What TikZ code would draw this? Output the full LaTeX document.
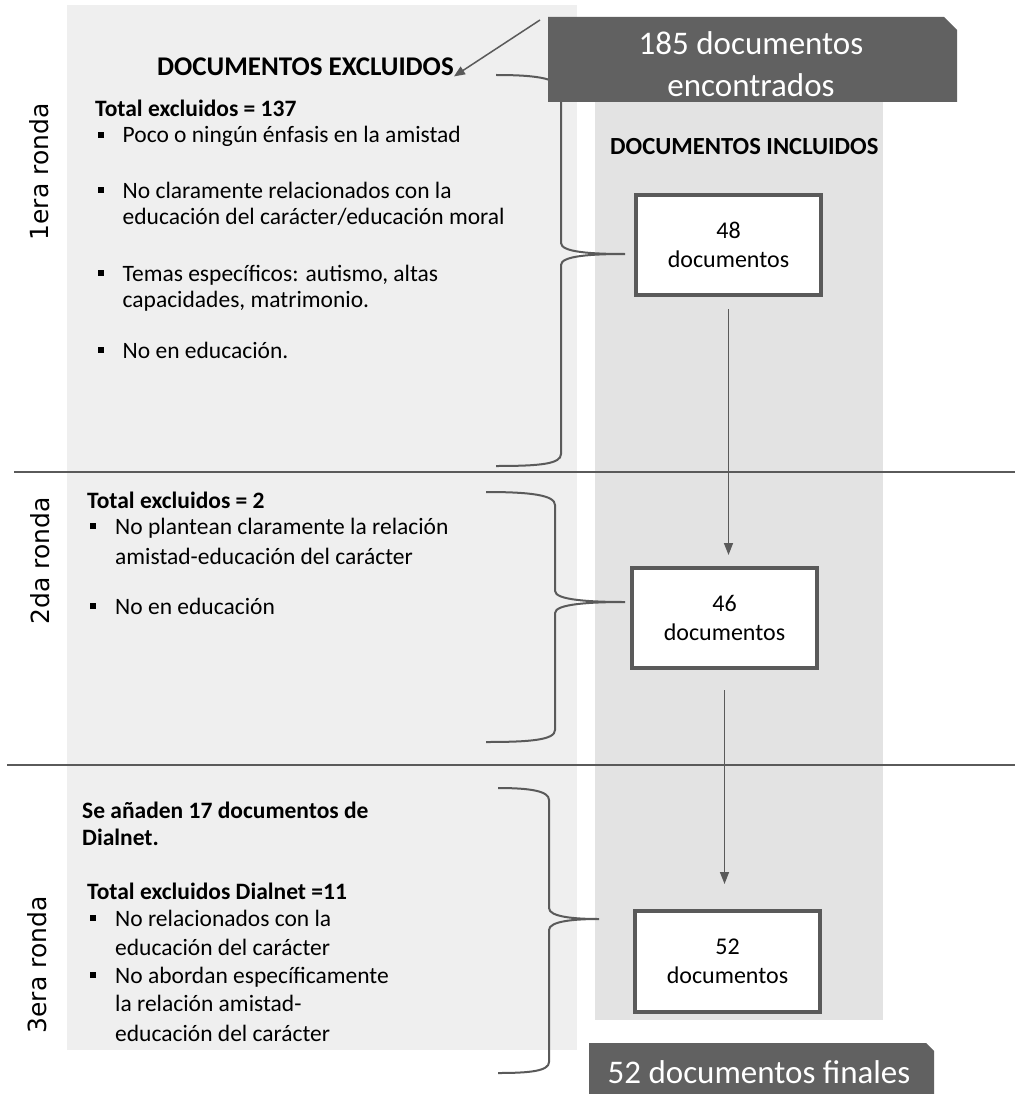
\documentclass[tikz,border=0pt]{standalone}
\usepackage{fontspec}
\setmainfont{Carlito}
\newfontfamily\rondafont{DejaVu Sans}
\usetikzlibrary{arrows.meta}

\definecolor{panelL}{HTML}{EFEFEF}
\definecolor{panelR}{HTML}{E3E3E3}
\definecolor{darkfill}{HTML}{616161}
\definecolor{linegray}{HTML}{5A5A5A}

\newcommand{\bul}{\llap{\rule[5pt]{6pt}{6pt}\hspace{19pt}}}

\tikzset{
  txt/.style={anchor=base west,inner sep=0pt,font=\fontsize{23.5}{28}\selectfont},
  btxt/.style={anchor=base west,inner sep=0pt,font=\fontsize{23.5}{28}\selectfont\bfseries},
  head/.style={anchor=base west,inner sep=0pt,font=\fontsize{#1}{30}\selectfont\bfseries},
  head/.default=25,
  ronda/.style={rotate=90,anchor=base,inner sep=0pt,font=\rondafont\fontsize{25}{30}\selectfont},
  bigtxt/.style={anchor=base,inner sep=0pt,text=white,font=\fontsize{33}{40}\selectfont},
  docbox/.style={draw=linegray,line width=4pt,fill=white,align=center,inner sep=0pt,
    minimum width=185pt,minimum height=100pt,font=\fontsize{24}{29}\selectfont},
  brace/.style={draw=linegray,line width=2pt},
  conn/.style={draw=linegray,line width=1.5pt,-{Triangle[length=12pt,width=9pt]}}
}

\begin{document}
\begin{tikzpicture}[x=1pt,y=1pt,yscale=-1,xscale=1]
\useasboundingbox (0,0) rectangle (1015,1094);

%Shape: Panels
\fill [panelL] (67,5) rectangle (577,1050);
\fill [panelR] (595,100) rectangle (883,1020);

%Separators
\draw [linegray,line width=2pt] (14,472) -- (1015,472);
\draw [linegray,line width=2pt] (7,765) -- (1015,765);

%Brace tips
\coordinate (k1) at (625,254);
\coordinate (k2) at (625,602);
\coordinate (k3) at (599,919);

%Braces
\draw [brace] (496,75) .. controls (540,75) and (561,79) .. (561,92) -- (561,243) .. controls (561,252) and (590,254) .. (k1) .. controls (590,254) and (561,256) .. (561,265) -- (561,454) .. controls (561,464) and (540,466) .. (496,466);
\draw [brace] (486,492) .. controls (530,492) and (555,495) .. (555,505) -- (555,591) .. controls (555,600) and (590,602) .. (k2) .. controls (590,602) and (555,604) .. (555,613) -- (555,730) .. controls (555,740) and (530,742) .. (486,742);
\draw [brace] (498,788) .. controls (530,788) and (549,791) .. (549,800) -- (549,908) .. controls (549,917) and (575,919) .. (k3) .. controls (575,919) and (549,921) .. (549,930) -- (549,1062) .. controls (549,1071) and (530,1073) .. (498,1073);

%Shape: dark boxes
\fill [darkfill] (548,17) -- (944,17) -- (957,30) -- (957,102) -- (548,102) -- cycle;
\fill [darkfill] (589,1043) -- (926,1043) -- (934,1051) -- (934,1094) -- (589,1094) -- cycle;

% Text Node
\node [bigtxt] (enc1) at (751,55) {185 documentos};
\node [bigtxt] (enc2) at (751,97) {encontrados};
\node [bigtxt] (fin) at (759,1083) {52 documentos finales};

% Headings
\node [head=27] (excl) at (157,76) {DOCUMENTOS EXCLUIDOS};
\node [head=24.6] (incl) at (610,155) {DOCUMENTOS INCLUIDOS};

% Round labels
\node [ronda] (r1) at (48,172) {1era ronda};
\node [ronda] (r2) at (49,561) {2da ronda};
\node [ronda] (r3) at (46,965) {3era ronda};

% 1era ronda
\node [btxt] (t1) at (95,117) {Total excluidos = 137};
\node [txt] (t1a) at (122.5,143) {\bul Poco o ningún énfasis en la amistad};
\node [txt] (t1b) at (122.5,198) {\bul No claramente relacionados con la};
\node [txt] (t1b2) at (122.5,224) {educación del carácter/educación moral};
\node [txt] (t1c) at (122.5,281) {\bul Temas específicos: autismo, altas};
\node [txt] (t1c2) at (122.5,307) {capacidades, matrimonio.};
\node [txt] (t1d) at (122.5,358) {\bul No en educación.};

% 2da ronda
\node [btxt] (t2) at (87,508) {Total excluidos = 2};
\node [txt] (t2a) at (115,534) {\bul No plantean claramente la relación};
\node [txt] (t2a2) at (115,564) {amistad-educación del carácter};
\node [txt] (t2b) at (115,614) {\bul No en educación};

% 3era ronda
\node [btxt] (t3) at (82,818) {Se añaden 17 documentos de};
\node [btxt] (t3b) at (82,845) {Dialnet.};
\node [btxt] (t3c) at (87,899) {Total excluidos Dialnet =11};
\node [txt] (t3d) at (115,926) {\bul No relacionados con la};
\node [txt] (t3d2) at (115,955) {educación del carácter};
\node [txt] (t3e) at (115,983) {\bul No abordan específicamente};
\node [txt] (t3e2) at (115,1011) {la relación amistad-};
\node [txt] (t3e3) at (115,1041) {educación del carácter};

% Boxes
\node [docbox] (b48) at (728.5,245) {48\\documentos};
\node [docbox] (b46) at (724.5,618) {46\\documentos};
\node [docbox,minimum height=101pt] (b52) at (727.5,961.5) {52\\documentos};

% Arrows
\coordinate (a0) at (540,20);
\draw [conn,-{Triangle[length=11pt,width=9pt]}] (a0) -- (excl.south east);
\draw [conn,shorten <=12pt,shorten >=11pt] (b48.south) -- (b48.south |- b46.north);
\draw [conn,shorten <=20pt,shorten >=25pt] (b46.south) -- (b46.south |- b52.north);

\end{tikzpicture}
\end{document}
